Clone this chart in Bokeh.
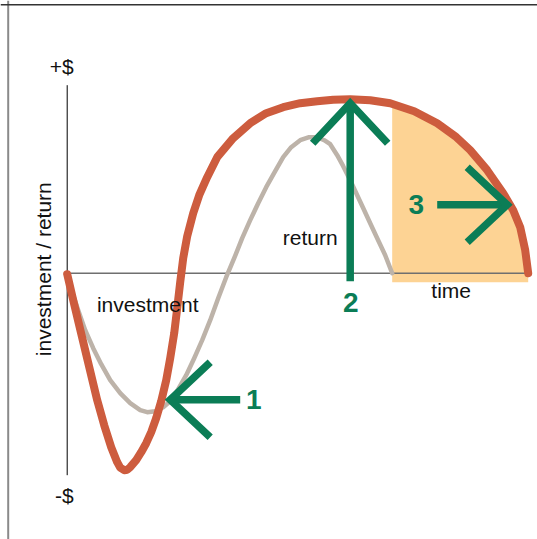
from bokeh.plotting import figure
from bokeh.models import Range1d, Span
from bokeh.core.properties import value
from bokeh.embed import file_html
from bokeh.resources import INLINE

# ---- data (time vs. investment/return, arbitrary units) ----
red_x = [0, 6, 12, 18, 24, 30, 37, 44, 50, 53, 57, 60, 63, 69, 74, 79, 84, 89, 94, 99,
         103, 107, 110, 113, 116, 120, 126, 132, 140, 150, 166, 183, 199, 216, 233,
         250, 266, 283, 303, 323, 347, 370, 388, 403, 420, 436, 446, 453, 458, 461]
red_y = [-1, -27, -52, -77, -102, -127, -152, -174, -189, -194.5, -197, -196.5, -194,
         -187, -179, -170, -159, -145, -128, -107, -85, -60, -35, -9, 15, 37, 60, 78,
         96, 116, 135, 150, 160, 166, 170, 172, 173.5, 174, 173, 170, 162, 150, 137,
         123, 103, 80, 63, 46, 23, 0]

grey_x = [0, 5, 11, 18, 26, 34, 43, 53, 63, 73, 80, 88, 96, 103, 111, 119, 127, 135,
          143, 151, 159, 167, 175, 183, 191, 199, 208, 216, 224, 233, 242, 250, 257,
          263, 270, 276, 283, 290, 297, 303, 310, 318, 325]
grey_y = [-1, -19, -37, -57, -75, -91, -107, -120, -130, -137, -139, -138, -134, -128,
          -116, -102, -85, -67, -47, -25, -4, 15, 35, 53, 70, 86, 102, 116, 126, 133,
          136, 136, 133, 129, 118, 107, 93, 78, 63, 50, 35, 18, 0]

fill_x = [325, 347, 370, 388, 403, 420, 436, 446, 453, 458, 461]
fill_top = [170, 162, 150, 137, 123, 103, 80, 63, 46, 23, 0]
fill_bottom = [-9] * len(fill_x)

time_axis_x = [0, 461]
time_axis_y = [0, 0]
value_axis_x = [0, 0]
value_axis_y = [-202, 188]

# arrows: shafts and heads
arrow1_shaft_x = [103, 173]
arrow1_shaft_y = [-126.5, -126.5]
arrow1_head_x = [143, 103, 143]
arrow1_head_y = [-89, -126.5, -164]

arrow2_shaft_x = [283, 283]
arrow2_shaft_y = [-8, 170]
arrow2_head_x = [245.5, 283, 320.5]
arrow2_head_y = [130, 170, 130]

arrow3_shaft_x = [370, 440]
arrow3_shaft_y = [68.5, 68.5]
arrow3_head_x = [400, 440, 400]
arrow3_head_y = [106, 68.5, 31]

num_labels = ["1", "2", "3"]
num_x = [186.5, 283.5, 349]
num_y = [-126.5, -29.5, 69]

word_labels = ["investment", "return", "time", "+$", "-$"]
word_x = [80.5, 243, 384, -5.5, -2.8]
word_y = [-31.5, 35.5, -17.5, 207, -222.5]

RED = "#CD5C3E"
GREY = "#BDB3A9"
FILL = "#FDD394"
GREEN = "#0B7D56"
FONT = value("Liberation Sans")

p = figure(width=537, height=539,
           x_range=Range1d(-66.7, 470.3), y_range=Range1d(-266.3, 272.7),
           x_axis_type=None, y_axis_type=None, min_border=0,
           toolbar_location=None, output_backend="svg",
           outline_line_color=None, background_fill_color="white",
           border_fill_color="white")

# frame lines (top and left)
p.add_layout(Span(location=-59.0, dimension="height", line_color="#8a8a8a", line_width=2))
p.add_layout(Span(location=268.5, dimension="width", line_color="#333333", line_width=1.5))

p.varea(x=fill_x, y1=fill_bottom, y2=fill_top, fill_color=FILL)
p.line(time_axis_x, time_axis_y, line_color="#6f6f6f", line_width=1.5)
p.line(value_axis_x, value_axis_y, line_color="black", line_width=1)

p.line(grey_x, grey_y, line_color=GREY, line_width=4.5, line_cap="round", line_join="round")
p.line(red_x, red_y, line_color=RED, line_width=8, line_cap="round", line_join="round")

for sx, sy, hx, hy in [(arrow1_shaft_x, arrow1_shaft_y, arrow1_head_x, arrow1_head_y),
                       (arrow2_shaft_x, arrow2_shaft_y, arrow2_head_x, arrow2_head_y),
                       (arrow3_shaft_x, arrow3_shaft_y, arrow3_head_x, arrow3_head_y)]:
    p.line(sx, sy, line_color=GREEN, line_width=7.5, line_cap="butt")
    p.line(hx, hy, line_color=GREEN, line_width=7.5, line_cap="butt", line_join="miter")

p.text(x=word_x, y=word_y, text=word_labels, text_font=FONT, text_font_size="21px",
       text_align="center", text_baseline="alphabetic", text_color="#111111")
p.text(x=[-23.5], y=[4], text=["investment / return"], text_font=FONT, text_font_size="21px",
       text_align="center", text_baseline="alphabetic", angle=1.5707963, text_color="#111111")
p.text(x=num_x, y=num_y, text=num_labels, text_font=FONT, text_font_size="28px",
       text_font_style="bold", text_align="center", text_baseline="alphabetic",
       text_color=GREEN)

open("out.html", "w").write(file_html(p, INLINE))
